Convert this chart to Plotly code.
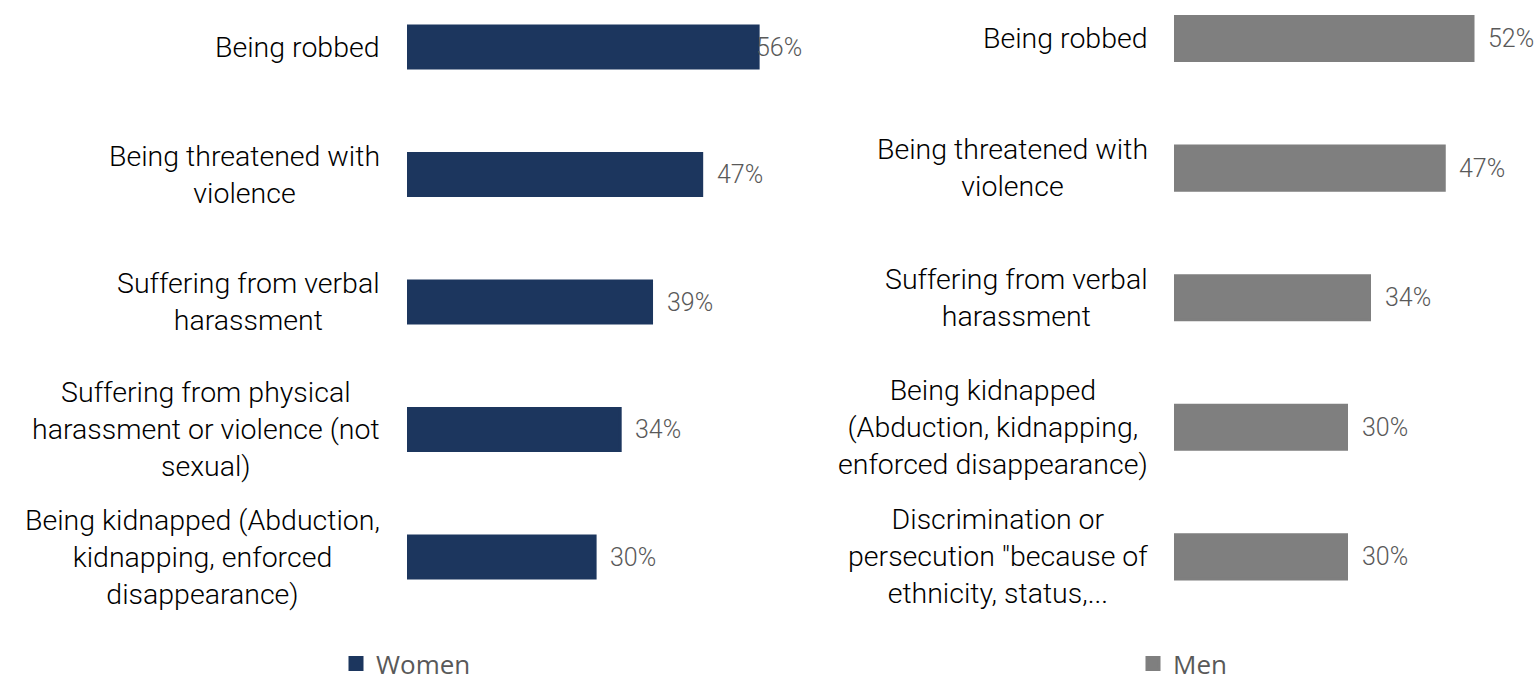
import plotly.graph_objects as go

# Survey results: share of respondents citing each risk
women_labels = [
    "Being robbed",
    "Being threatened with<br>violence",
    "Suffering from verbal<br>harassment",
    "Suffering from physical<br>harassment or violence (not<br>sexual)",
    "Being kidnapped (Abduction,<br>kidnapping, enforced<br>disappearance)",
]
women_values = [56, 47, 39, 34, 30]

men_labels = [
    "Being robbed",
    "Being threatened with<br>violence",
    "Suffering from verbal<br>harassment",
    "Being kidnapped<br>(Abduction, kidnapping,<br>enforced disappearance)",
    "Discrimination or<br>persecution \"because of<br>ethnicity, status,...",
]
men_values = [52, 47, 34, 30, 30]

W, H = 1540, 687
NAVY = "#1c365e"
GREY = "#7f7f7f"
LABEL_FONT = "Roboto, Barlow, Arial, sans-serif"

women_pos = list(range(len(women_values)))
men_pos = list(range(len(men_values)))

fig = go.Figure()

fig.add_trace(go.Bar(
    x=women_values, y=women_pos, orientation="h", name="Women",
    marker=dict(color=NAVY, line=dict(color=NAVY, width=3)),
    width=0.33, xaxis="x", yaxis="y", legend="legend", showlegend=True,
    hoverinfo="skip",
))
fig.add_trace(go.Bar(
    x=men_values, y=men_pos, orientation="h", name="Men",
    marker=dict(color=GREY, line=dict(color=GREY, width=3)),
    width=0.34, xaxis="x2", yaxis="y2", legend="legend2", showlegend=True,
    hoverinfo="skip",
))

# axis geometry (paper fractions)
x1_dom = [407 / W, 800 / W]
x1_max = (800 - 407) / 6.27
x2_dom = [1174 / W, 1.0]
x2_max = (W - 1174) / 5.75

# category spacing: first bar centre and pitch in pixels
y1_first, y1_pitch = 47, 127.5
y2_first, y2_pitch = 38.5, 129.6
y1_range = [-y1_first / y1_pitch + H / y1_pitch, -y1_first / y1_pitch]
y2_range = [-y2_first / y2_pitch + H / y2_pitch, -y2_first / y2_pitch]

axis_off = dict(showgrid=False, zeroline=False, showticklabels=False,
                showline=False, ticks="", fixedrange=True)

legend_font = dict(family="Open Sans, sans-serif", size=26, color="#595959")

fig.update_layout(
    width=W, height=H,
    margin=dict(l=0, r=0, t=0, b=0, autoexpand=False),
    paper_bgcolor="white", plot_bgcolor="white",
    showlegend=True,
    xaxis=dict(domain=x1_dom, range=[0, x1_max], **axis_off),
    yaxis=dict(domain=[0, 1], range=y1_range, anchor="x", **axis_off),
    xaxis2=dict(domain=x2_dom, range=[0, x2_max], anchor="y2", **axis_off),
    yaxis2=dict(domain=[0, 1], range=y2_range, anchor="x2", **axis_off),
    barmode="overlay",
    legend=dict(x=336 / W, y=0, xanchor="left", yanchor="bottom",
                orientation="h", font=legend_font,
                bgcolor="rgba(0,0,0,0)", itemwidth=30),
    legend2=dict(x=1133 / W, y=0, xanchor="left", yanchor="bottom",
                 orientation="h", font=legend_font,
                 bgcolor="rgba(0,0,0,0)", itemwidth=30),
)

annotations = []

def add_labels(labels, values, pos, xref, yref, label_right_px, axis_max):
    for lab, val, p in zip(labels, values, pos):
        annotations.append(dict(
            x=label_right_px / W, xref="paper", y=p, yref=yref,
            xanchor="right", yanchor="middle", align="center",
            text=lab, showarrow=False,
            font=dict(family=LABEL_FONT, size=28.5, color="#000000", weight=300),
        ))
        # value label sits just past the bar end, pulled back inside the plot edge if needed
        text = f"{val}%"
        room = (axis_max - val)
        if room < 7.5:
            annotations.append(dict(
                x=axis_max, xref=xref, y=p, yref=yref, xanchor="right", yanchor="middle",
                xshift=4, text=text, showarrow=False,
                font=dict(family=LABEL_FONT, size=25, color="#595959", weight=300),
            ))
        else:
            annotations.append(dict(
                x=val, xref=xref, y=p, yref=yref, xanchor="left", yanchor="middle",
                xshift=13, text=text, showarrow=False,
                font=dict(family=LABEL_FONT, size=25, color="#595959", weight=300),
            ))

add_labels(women_labels, women_values, women_pos, "x", "y", 382, x1_max)
add_labels(men_labels, men_values, men_pos, "x2", "y2", 1150, x2_max)

fig.update_layout(annotations=annotations)

fig.write_html("out.html")
